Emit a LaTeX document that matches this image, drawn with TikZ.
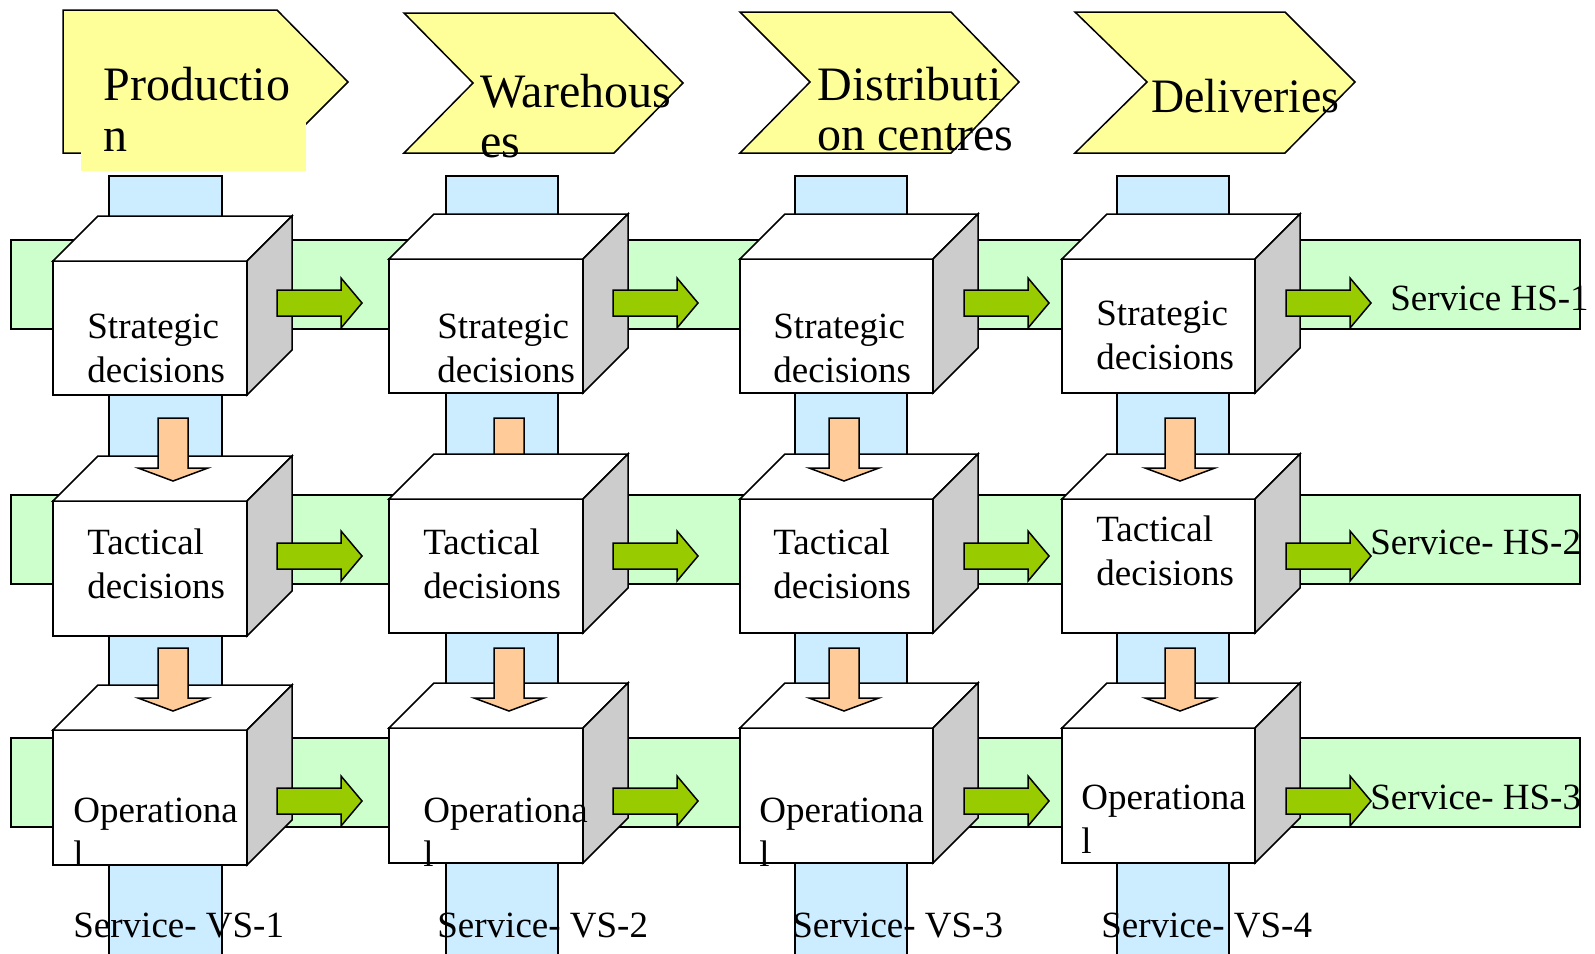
\documentclass[tikz,border=0pt]{standalone}
\usepackage{fontspec}
\setmainfont{Liberation Serif}
\definecolor{hdryellow}{HTML}{FFFF99}
\definecolor{bandgreen}{HTML}{CCFFCC}
\definecolor{barblue}{HTML}{CCECFF}
\definecolor{arrgreen}{HTML}{99CC00}
\definecolor{arrorange}{HTML}{FFCC99}
\definecolor{sidegray}{HTML}{CCCCCC}

% cube: front face corners (x1,y1) (x2,y2), depth 45
\newcommand{\drawcube}[4]{%
  \draw[face] (#1,#2) rectangle (#3,#4);
  \draw[face] (#1,#2) -- (#1+45,#2-45) -- (#3+45,#2-45) -- (#3,#2) -- cycle;
  \draw[side] (#3,#2) -- (#3+45,#2-45) -- (#3+45,#4-45) -- (#3,#4) -- cycle;}
% block arrow to the right: tail x, centre y
\newcommand{\greenarrow}[2]{%
  \draw[garr] (#1,#2-13) -- (#1+64,#2-13) -- (#1+64,#2-25) -- (#1+85,#2)
    -- (#1+64,#2+25) -- (#1+64,#2+13) -- (#1,#2+13) -- cycle;}
% block arrow downwards: centre x, top y
\newcommand{\orangearrow}[2]{%
  \draw[oarr] (#1-15,#2) -- (#1+15,#2) -- (#1+15,#2+50) -- (#1+35,#2+50)
    -- (#1,#2+63) -- (#1-35,#2+50) -- (#1-15,#2+50) -- cycle;}

\begin{document}
\begin{tikzpicture}
  [line join=miter,x=0.5pt,y=-0.5pt,
   edge/.style={draw=black,line width=0.75pt},
   bar/.style={edge,fill=barblue},
   band/.style={edge,fill=bandgreen},
   face/.style={edge,fill=white},
   side/.style={edge,fill=sidegray},
   hdr/.style={edge,fill=hdryellow},
   garr/.style={edge,fill=arrgreen},
   oarr/.style={edge,fill=arrorange},
   hfont/.style={inner sep=0pt,anchor=base west,font=\fontsize{24}{25}\selectfont},
   bfont/.style={inner sep=0pt,anchor=base west,font=\fontsize{18.5}{22}\selectfont}]
  \useasboundingbox (0,0) rectangle (1595,953);
  \clip (0,0) rectangle (1595,953);

  % headers
  \draw[hdr] (63,10) -- (277,10) -- (348,82) -- (277,153) -- (63,153) -- cycle;
  \fill[hdryellow] (81,45) rectangle (306,171);
  \draw[hdr] (404,13) -- (614,13) -- (683,83) -- (614,153) -- (404,153) -- (473,83) -- cycle;
  \draw[hdr] (740,12) -- (951,12) -- (1019,82) -- (951,153) -- (740,153) -- (810,82) -- cycle;
  \draw[hdr] (1075,12) -- (1285,12) -- (1355,82) -- (1285,153) -- (1075,153) -- (1147,82) -- cycle;
  \node[hfont] (prod1) at (103,100) {Productio};
  \node[hfont] (prod2) at (103,151) {n};
  \node[hfont] (ware1) at (480,107) {Warehous};
  \node[hfont] (ware2) at (480,157) {es};
  \node[hfont] (dist1) at (817,100) {Distributi};
  \node[hfont] (dist2) at (817,150) {on centres};
  \node[hfont] (deli) at (1151,112) {\scalebox{0.955}[1]{Deliveries}};

  % vertical service bars
  \draw[bar] (109,960) -- (109,176) -- (222,176) -- (222,960);
  \draw[bar] (446,960) -- (446,176) -- (558,176) -- (558,960);
  \draw[bar] (795,960) -- (795,176) -- (907,176) -- (907,960);
  \draw[bar] (1117,960) -- (1117,176) -- (1229,176) -- (1229,960);

  % horizontal service bands
  \draw[band] (11,240) rectangle (1580,329);
  \draw[band] (11,495) rectangle (1580,584);
  \draw[band] (11,738) rectangle (1580,827);

  \orangearrow{509}{418}

  % decision cubes
  \drawcube{53}{261}{247}{395}
  \drawcube{53}{501}{247}{636}
  \drawcube{53}{730}{247}{865}
  \drawcube{389}{259}{583}{393}
  \drawcube{389}{499}{583}{633}
  \drawcube{389}{728}{583}{863}
  \drawcube{740}{259}{933}{393}
  \drawcube{740}{499}{933}{633}
  \drawcube{740}{728}{933}{863}
  \drawcube{1062}{259}{1255}{393}
  \drawcube{1062}{499}{1255}{633}
  \drawcube{1062}{728}{1255}{863}

  % downward arrows
  \orangearrow{173}{418}
  \orangearrow{173}{648}
  \orangearrow{509}{648}
  \orangearrow{844}{418}
  \orangearrow{844}{648}
  \orangearrow{1180}{418}
  \orangearrow{1180}{648}

  % rightward arrows
  \foreach \ya in {303,556,801}{
    \greenarrow{277}{\ya}
    \greenarrow{613}{\ya}
    \greenarrow{964}{\ya}
    \greenarrow{1286}{\ya}
  }

  % cube texts
  \node[bfont] (str1a) at (87,338) {Strategic};
  \node[bfont] (str1b) at (87,382) {decisions};
  \node[bfont] (str2a) at (437,338) {Strategic};
  \node[bfont] (str2b) at (437,382) {decisions};
  \node[bfont] (str3a) at (773,338) {Strategic};
  \node[bfont] (str3b) at (773,382) {decisions};
  \node[bfont] (str4a) at (1096,325) {Strategic};
  \node[bfont] (str4b) at (1096,369) {decisions};
  \node[bfont] (tac1a) at (87,554) {Tactical};
  \node[bfont] (tac1b) at (87,598) {decisions};
  \node[bfont] (tac2a) at (423,554) {Tactical};
  \node[bfont] (tac2b) at (423,598) {decisions};
  \node[bfont] (tac3a) at (773,554) {Tactical};
  \node[bfont] (tac3b) at (773,598) {decisions};
  \node[bfont] (tac4a) at (1096,541) {Tactical};
  \node[bfont] (tac4b) at (1096,585) {decisions};
  \node[bfont] (ope1a) at (73,822) {Operationa};
  \node[bfont] (ope1b) at (73,866) {l};
  \node[bfont] (ope2a) at (423,822) {Operationa};
  \node[bfont] (ope2b) at (423,866) {l};
  \node[bfont] (ope3a) at (759,822) {Operationa};
  \node[bfont] (ope3b) at (759,866) {l};
  \node[bfont] (ope4a) at (1081,809) {Operationa};
  \node[bfont] (ope4b) at (1081,853) {l};

  % service labels
  \node[bfont] (hs1) at (1390,310) {Service HS-1};
  \node[bfont] (hs2) at (1370,554) {Service- HS-2};
  \node[bfont] (hs3) at (1370,809) {Service- HS-3};
  \node[bfont] (vs1) at (73,937) {Service- VS-1};
  \node[bfont] (vs2) at (437,937) {Service- VS-2};
  \node[bfont] (vs3) at (792,937) {Service- VS-3};
  \node[bfont] (vs4) at (1101,937) {Service- VS-4};
\end{tikzpicture}
\end{document}
